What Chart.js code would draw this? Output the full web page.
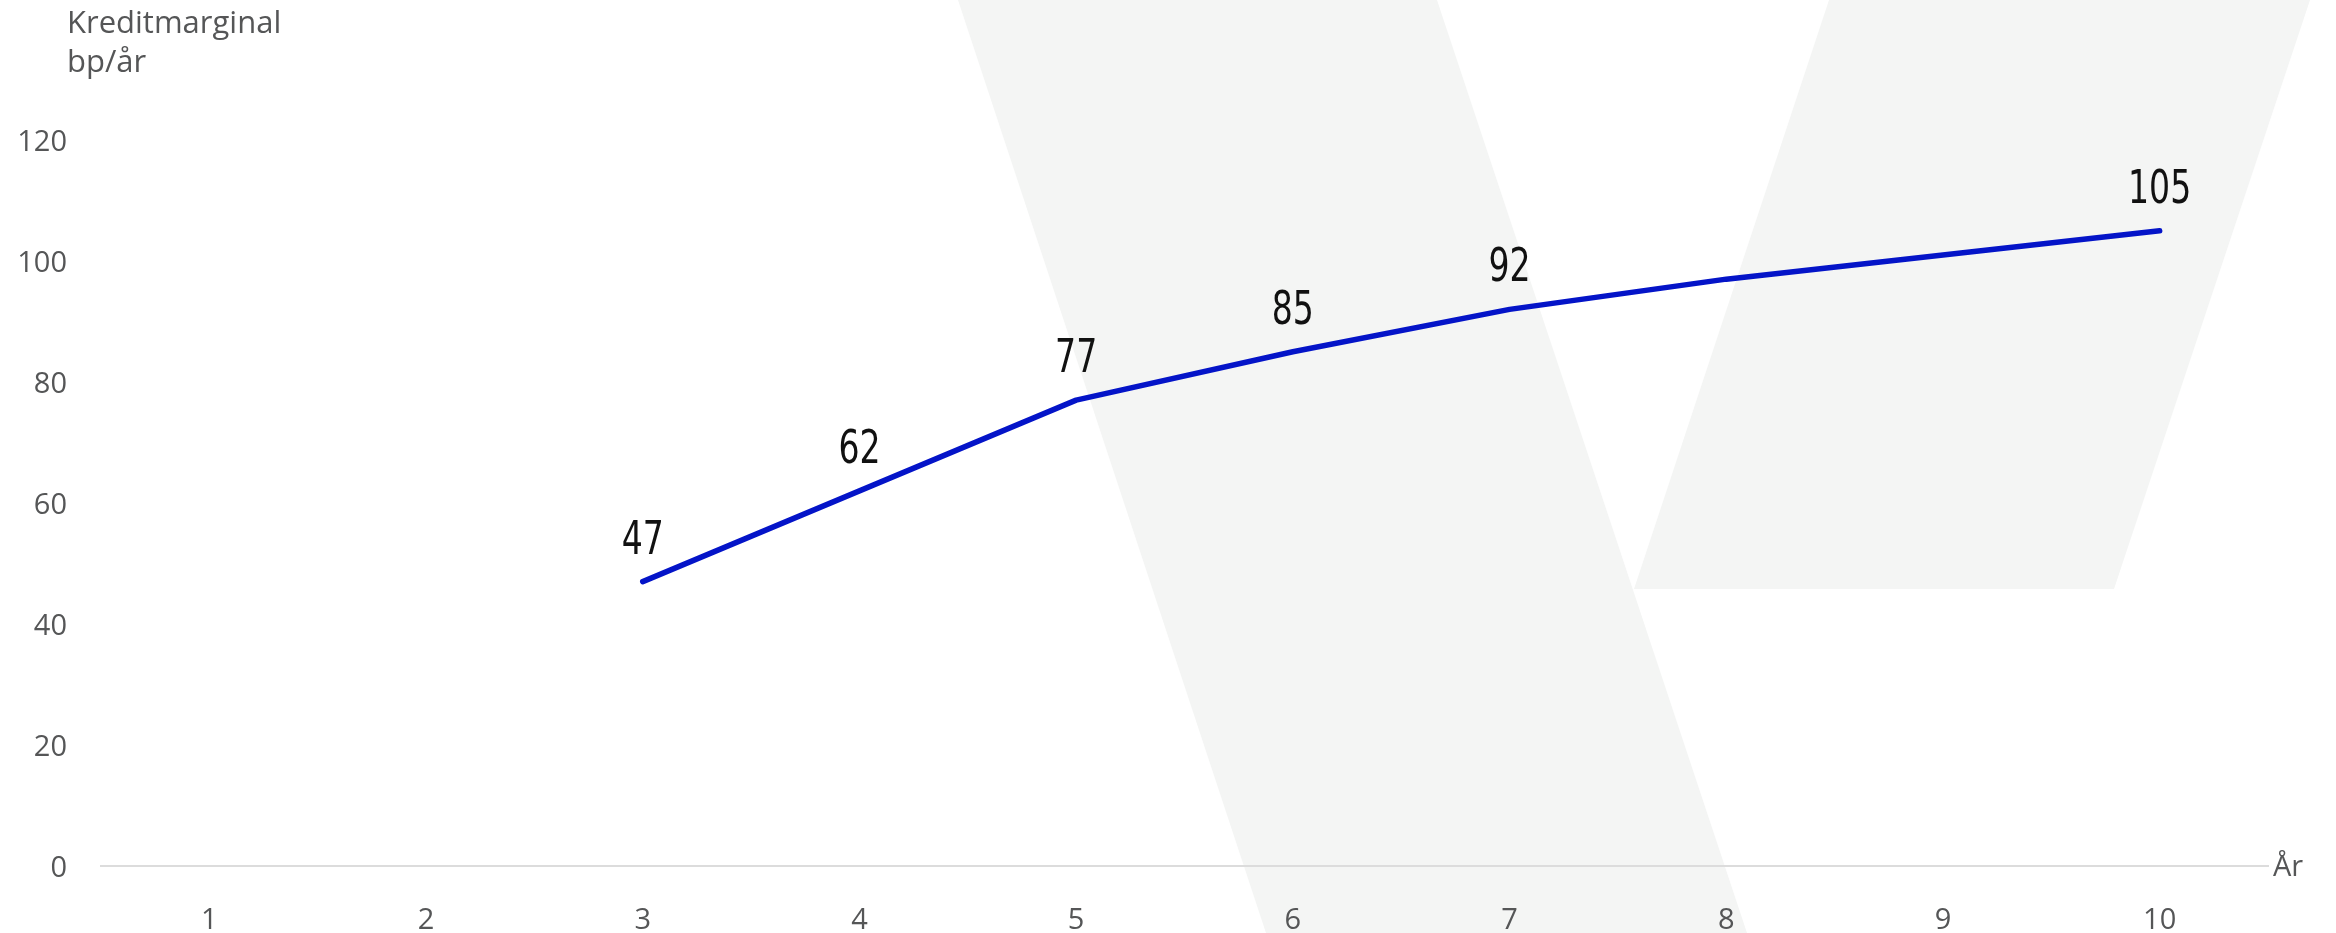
<!DOCTYPE html>
<html>
<head>
<meta charset="utf-8">
<title>Kreditmarginal</title>
<script src="https://cdn.jsdelivr.net/npm/chart.js@4.4.1/dist/chart.umd.min.js"></script>
<style>
  html, body { margin: 0; padding: 0; background: #fff; }
  canvas { display: block; }
</style>
</head>
<body>
<canvas id="chart" width="2336" height="933"></canvas>
<script>
// years on the x axis and credit spread in bp per year
const years = ["1", "2", "3", "4", "5", "6", "7", "8", "9", "10"];
const spread = [null, null, 47, 62, 77, 85, 92, 97, 101, 105];
const labelledYears = ["3", "4", "5", "6", "7", "10"];
const yTicks = [0, 20, 40, 60, 80, 100, 120];
const yTitle = ["Kreditmarginal", "bp/år"];
const xTitle = "År";

const tickFont = { family: "'Open Sans', Lato, sans-serif", size: 29 };
const greyText = "#555657";

// light backdrop shapes behind the plot
const backdrop = [
    [[958, 0], [1437, 0], [1747, 933], [1266, 933]],
    [[1829, 0], [2310, 0], [2114, 589], [1634, 589]]
];

const backdropPlugin = {
    id: "backdrop",
    beforeDraw(chart) {
        const ctx = chart.ctx;
        ctx.save();
        ctx.fillStyle = "#ffffff";
        ctx.fillRect(0, 0, chart.width, chart.height);
        ctx.fillStyle = "#f4f5f4";
        backdrop.forEach(poly => {
            ctx.beginPath();
            poly.forEach(([x, y], i) => i ? ctx.lineTo(x, y) : ctx.moveTo(x, y));
            ctx.closePath();
            ctx.fill();
        });
        ctx.restore();
    }
};

// axis titles: unit in the top left corner, "År" at the end of the x axis
const axisTitles = {
    id: "axisTitles",
    afterDraw(chart) {
        const ctx = chart.ctx;
        const area = chart.chartArea;
        ctx.save();
        ctx.fillStyle = greyText;
        ctx.textAlign = "left";
        ctx.textBaseline = "alphabetic";
        ctx.font = `31px ${tickFont.family}`;
        ctx.fillText(yTitle[0], 67, 33);
        ctx.fillText(yTitle[1], 67, 72);
        ctx.font = `${tickFont.size}px ${tickFont.family}`;
        ctx.fillText(xTitle, area.right + 5, area.bottom + 10);
        ctx.restore();
    }
};

// value labels above the selected points, in narrow tall digits
const valueLabels = {
    id: "valueLabels",
    afterDatasetsDraw(chart) {
        const ctx = chart.ctx;
        const points = chart.getDatasetMeta(0).data;
        ctx.save();
        ctx.font = "46px 'DejaVu Sans Condensed', 'DejaVu Sans', sans-serif";
        ctx.fillStyle = "#111111";
        ctx.textAlign = "center";
        ctx.textBaseline = "middle";
        points.forEach((pt, i) => {
            if (spread[i] === null || !labelledYears.includes(years[i])) return;
            ctx.save();
            ctx.translate(pt.x, pt.y - 40);
            ctx.scale(0.8, 1);
            ctx.fillText(String(spread[i]), 0, 0);
            ctx.restore();
        });
        ctx.restore();
    }
};

new Chart(document.getElementById("chart"), {
    type: "line",
    data: {
        labels: years,
        datasets: [{
            data: spread,
            borderColor: "#0414c8",
            borderWidth: 5.5,
            borderCapStyle: "round",
            borderJoinStyle: "round",
            pointRadius: 0,
            tension: 0,
            fill: false
        }]
    },
    options: {
        responsive: false,
        animation: false,
        devicePixelRatio: 1,
        layout: { padding: { top: 140, right: 68, bottom: 0, left: 0 } },
        plugins: {
            legend: { display: false },
            tooltip: { enabled: false }
        },
        scales: {
            x: {
                type: "category",
                offset: true,
                grid: { display: false, drawTicks: false },
                border: { display: true, color: "#dcdcdc", width: 2 },
                ticks: { color: greyText, font: tickFont, padding: 37, maxRotation: 0 },
                afterFit(scale) { scale.height = 67; }
            },
            y: {
                min: 0,
                max: 120,
                grid: { display: false, drawTicks: false },
                border: { display: false },
                ticks: { color: greyText, font: tickFont, padding: 34, labelOffset: 3 },
                afterBuildTicks(scale) { scale.ticks = yTicks.map(v => ({ value: v })); },
                afterFit(scale) { scale.width = 101; }
            }
        }
    },
    plugins: [backdropPlugin, axisTitles, valueLabels]
});
</script>
</body>
</html>
